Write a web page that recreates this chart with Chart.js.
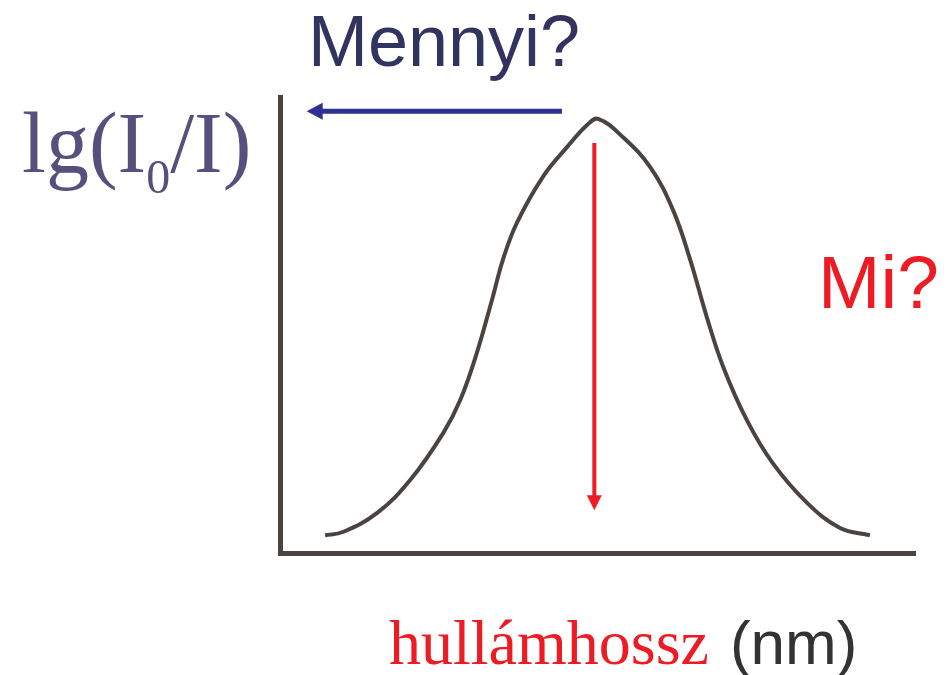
<!DOCTYPE html>
<html>
<head>
<meta charset="utf-8">
<script src="https://cdn.jsdelivr.net/npm/chart.js@4/dist/chart.umd.min.js"></script>
<style>
  html, body { margin: 0; padding: 0; background: #ffffff; }
  #wrap { width: 949px; height: 675px; position: relative; }
</style>
</head>
<body>
<div id="wrap"><canvas id="c" width="949" height="675"></canvas></div>
<script>
// ---- data (arbitrary units) ----
const wavelength = [7.1, 9.9, 15.3, 20.5, 25.7, 28.4, 31.0, 33.5, 35.1, 37.3, 41.4, 45.2, 48.4, 50.1, 54.0, 58.3, 61.9, 64.6, 67.2, 69.8, 73.5, 77.6, 83.0, 88.2, 92.9];
const absorbance = [0.039, 0.046, 0.088, 0.160, 0.263, 0.336, 0.439, 0.561, 0.643, 0.724, 0.825, 0.890, 0.939, 0.952, 0.912, 0.846, 0.752, 0.643, 0.518, 0.408, 0.292, 0.197, 0.110, 0.055, 0.039];
// arrows in data coordinates: [x, y]
const arrowMennyiFrom = [44.4, 0.969];
const arrowMennyiTo = [4.2, 0.969];
const arrowMiFrom = [49.5, 0.899];
const arrowMiTo = [49.5, 0.094];
// texts
const yTitleMain = "lg(I";
const yTitleSub = "0";
const yTitleEnd = "/I)";
const questionAmount = "Mennyi?";
const questionWhat = "Mi?";
const xTitleRed = "hullámhossz";
const xTitleUnit = "(nm)";

const points = wavelength.map((x, i) => ({ x: x, y: absorbance[i] }));

function drawArrow(ctx, chart, from, to, color, lw, headLen, headHalf) {
  const xs = chart.scales.x, ys = chart.scales.y;
  const x1 = xs.getPixelForValue(from[0]), y1 = ys.getPixelForValue(from[1]);
  const x2 = xs.getPixelForValue(to[0]), y2 = ys.getPixelForValue(to[1]);
  const dx = x2 - x1, dy = y2 - y1;
  const len = Math.hypot(dx, dy);
  const ux = dx / len, uy = dy / len;
  const bx = x2 - ux * headLen, by = y2 - uy * headLen;
  ctx.save();
  ctx.strokeStyle = color;
  ctx.fillStyle = color;
  ctx.lineWidth = lw;
  ctx.lineCap = 'butt';
  ctx.beginPath();
  ctx.moveTo(x1, y1);
  ctx.lineTo(bx + ux * 1, by + uy * 1);
  ctx.stroke();
  ctx.beginPath();
  ctx.moveTo(x2, y2);
  ctx.lineTo(bx - uy * headHalf, by + ux * headHalf);
  ctx.lineTo(bx + uy * headHalf, by - ux * headHalf);
  ctx.closePath();
  ctx.fill();
  ctx.restore();
}

const overlay = {
  id: 'overlay',
  afterDatasetsDraw(chart) {
    const ctx = chart.ctx;
    drawArrow(ctx, chart, arrowMennyiFrom, arrowMennyiTo, '#2e3192', 5, 16, 8.5);
    drawArrow(ctx, chart, arrowMiFrom, arrowMiTo, '#ed1c24', 4, 15, 7.5);

    ctx.save();
    ctx.textBaseline = 'alphabetic';
    ctx.textAlign = 'left';

    // y title
    ctx.fillStyle = '#56507c';
    ctx.font = '86px "Liberation Serif", "Times New Roman", serif';
    let x = 22;
    ctx.fillText(yTitleMain, x, 172);
    x += ctx.measureText(yTitleMain).width;
    ctx.font = '48px "Liberation Serif", "Times New Roman", serif';
    ctx.fillText(yTitleSub, x, 193);
    x += ctx.measureText(yTitleSub).width;
    ctx.font = '86px "Liberation Serif", "Times New Roman", serif';
    ctx.fillText(yTitleEnd, x, 172);

    // Mennyi?
    ctx.fillStyle = '#33335f';
    ctx.font = '72px "Liberation Sans", Arial, sans-serif';
    ctx.fillText(questionAmount, 308, 66);

    // Mi?
    ctx.fillStyle = '#ed1c24';
    ctx.font = '75px "Liberation Sans", Arial, sans-serif';
    ctx.fillText(questionWhat, 818, 308);

    // x title
    ctx.font = '64px "Liberation Serif", "Times New Roman", serif';
    ctx.fillStyle = '#ed1c24';
    ctx.fillText(xTitleRed, 389, 664);
    const w = ctx.measureText(xTitleRed + ' ').width;
    ctx.fillStyle = '#333333';
    ctx.font = '62px "Liberation Sans", Arial, sans-serif';
    ctx.fillText(xTitleUnit, 389 + w + 5, 664);
    ctx.restore();
  }
};

new Chart(document.getElementById('c'), {
  type: 'line',
  data: {
    datasets: [{
      data: points,
      borderColor: '#4b4340',
      borderWidth: 4,
      pointRadius: 0,
      tension: 0.4,
      fill: false
    }]
  },
  options: {
    responsive: false,
    animation: false,
    devicePixelRatio: 1,
    layout: { padding: { left: 280, right: 34, top: 97, bottom: 122 } },
    plugins: { legend: { display: false }, tooltip: { enabled: false }, title: { display: false } },
    scales: {
      x: {
        type: 'linear', min: 0, max: 100,
        grid: { display: false, drawTicks: false },
        ticks: { display: false },
        border: { display: true, color: '#4b4340', width: 5 }
      },
      y: {
        type: 'linear', min: 0, max: 1,
        grid: { display: false, drawTicks: false },
        ticks: { display: false },
        border: { display: true, color: '#4b4340', width: 5 }
      }
    }
  },
  plugins: [overlay]
});
</script>
</body>
</html>
